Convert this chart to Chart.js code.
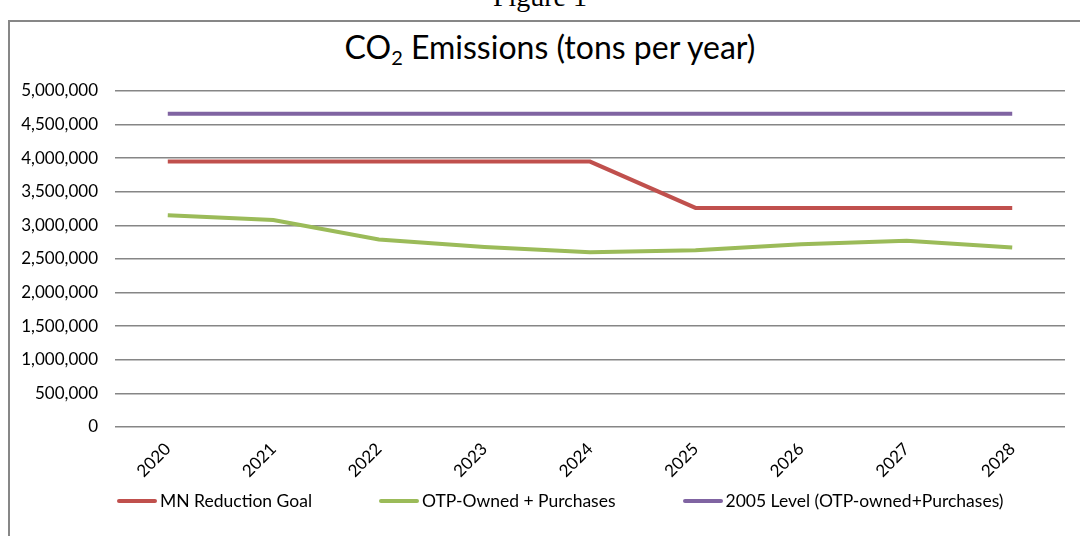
<!DOCTYPE html>
<html>
<head>
<meta charset="utf-8">
<script src="https://cdn.jsdelivr.net/npm/chart.js@4.4.1/dist/chart.umd.min.js"></script>
<style>
  body { margin: 0; width: 1080px; height: 536px; overflow: hidden; background: #fff; position: relative; }
  #fig { position: absolute; left: 0; width: 1080px; top: -19px; text-align: center; font-family: "Liberation Serif", serif; font-size: 28px; color: #000; }
  #frame { position: absolute; left: 8px; top: 20px; width: 1090px; height: 540px; border: 2px solid #878787; box-sizing: border-box; }
  #title { position: absolute; left: 0; width: 1100px; top: 27px; text-align: center; font-family: Lato, sans-serif; font-size: 32px; color: #000; }
  #title sub { font-size: 20px; vertical-align: -6px; }
  #wrap { position: absolute; left: 10px; top: 22px; width: 1070px; height: 514px; }
  #legend { position: absolute; left: 117px; top: 490px; display: flex; gap: 67px; font-family: Lato, sans-serif; font-size: 17.5px; color: #000; }
  .item { display: flex; align-items: center; white-space: nowrap; }
  .swatch { width: 40px; height: 4px; margin-right: 3px; border-radius: 2px; }
</style>
</head>
<body>
<div id="fig">Figure 1</div>
<div id="frame"></div>
<div id="title">CO<sub>2</sub> Emissions (tons per year)</div>
<div id="wrap"><canvas id="co2Chart"></canvas></div>
<div id="legend"></div>
<script>
const years = ['2020', '2021', '2022', '2023', '2024', '2025', '2026', '2027', '2028'];
const mnGoal = [3950000, 3950000, 3950000, 3950000, 3950000, 3260000, 3260000, 3260000, 3260000];
const otpOwned = [3150000, 3080000, 2790000, 2680000, 2600000, 2630000, 2720000, 2770000, 2670000];
const level2005 = [4660000, 4660000, 4660000, 4660000, 4660000, 4660000, 4660000, 4660000, 4660000];

function makeSet(label, values, color) {
    return {
        label: label,
        data: values,
        borderColor: color,
        backgroundColor: color,
        borderWidth: 4,
        pointRadius: 0,
        tension: 0
    };
}

const co2Chart = new Chart(document.getElementById('co2Chart').getContext('2d'), {
    type: 'line',
    data: {
        labels: years,
        datasets: [
            makeSet('MN Reduction Goal', mnGoal, '#C0504D'),
            makeSet('OTP-Owned + Purchases', otpOwned, '#9BBB59'),
            makeSet('2005 Level (OTP-owned+Purchases)', level2005, '#8064A2')
        ]
    },
    options: {
        responsive: true,
        maintainAspectRatio: false,
        animation: false,
        layout: { padding: { top: 69, left: 0, right: 15, bottom: 49 } },
        plugins: {
            tooltip: { enabled: false },
            title: { display: false },
            legend: { display: false }
        },
        scales: {
            x: {
                offset: true,
                grid: { display: false },
                border: { display: false },
                afterFit: scale => { scale.height = 60; },
                ticks: {
                    color: '#000',
                    minRotation: 45,
                    maxRotation: 45,
                    padding: 4,
                    font: { family: 'Lato', size: 17 }
                }
            },
            y: {
                min: 0,
                max: 5000000,
                border: { display: false },
                afterFit: scale => { scale.width = 105; },
                grid: { color: '#868686', lineWidth: 1.5, drawTicks: false },
                ticks: {
                    stepSize: 500000,
                    padding: 17,
                    color: '#000',
                    font: { family: 'Lato', size: 17 },
                    callback: v => v.toLocaleString('en-US')
                }
            }
        }
    }
});

// legend drawn as html so the item spacing can match the original
const legendBox = document.getElementById('legend');
co2Chart.data.datasets.forEach(ds => {
    legendBox.innerHTML += `<div class="item"><span class="swatch" style="background:${ds.borderColor}"></span>${ds.label}</div>`;
});
</script>
</body>
</html>
